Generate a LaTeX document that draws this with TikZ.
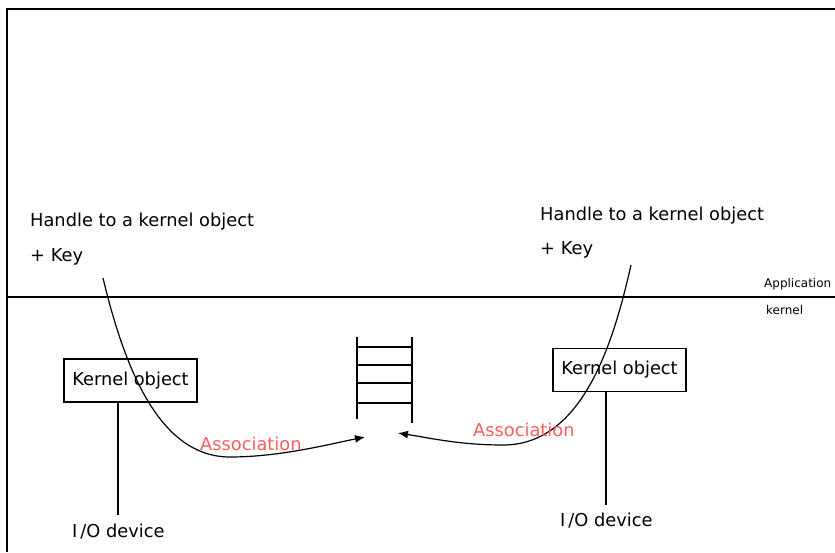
\documentclass[tikz,border=0pt]{standalone}
\usepackage{fontspec}
\setmainfont{DejaVu Sans}
\usetikzlibrary{arrows.meta}
\definecolor{assoc}{HTML}{FF5E5E}
\tikzset{
  line/.style={line width=1.1pt, black},
  frameline/.style={line width=1.3pt, black},
  label/.style={anchor=west, inner sep=0pt, font=\fontsize{17.8}{20}\selectfont},
  small/.style={anchor=west, inner sep=0pt, font=\fontsize{12}{14}\selectfont},
  objbox/.style={draw, line width=1.1pt, minimum width=133pt, minimum height=43pt,
                 inner sep=0pt, font=\fontsize{17.8}{20}\selectfont},
  assoclabel/.style={anchor=west, inner sep=0pt, text=assoc, font=\fontsize{17.8}{20}\selectfont},
  link/.style={line width=1.2pt, -{Latex[length=10pt,width=8pt]}}
}
\begin{document}
\begin{tikzpicture}[x=1pt, y=-1pt]
\useasboundingbox (0,0) rectangle (835,552);
\fill[white] (0,0) rectangle (835,552);

% outer frame and the application/kernel boundary
\draw[frameline] (7,552) -- (7,9) -- (835,9);
\draw[frameline] (7,297) -- (835,297);
\node[small] (app) at (764,284) {Application};
\node[small] (ker) at (766,310) {kernel};

% handles held by the application
\node[label] (h1) at (30,222) {Handle to a kernel object};
\node[label] (k1) at (30,257) {+ Key};
\node[label] (h2) at (540,216) {Handle to a kernel object};
\node[label] (k2) at (540,250) {+ Key};

% kernel objects and their devices
\node[objbox] (ko1) at (130.5,380.5) {Kernel object};
\node[objbox] (ko2) at (619.5,370) {Kernel object};
\node[label] (io1) at (72,532) {I\kern3pt/O device};
\node[label] (io2) at (560,521) {I\kern3pt/O device};
\coordinate (d1) at (118,515);
\coordinate (d2) at (606,505);
\draw[line] (ko1.south -| d1) -- (d1);
\draw[line] (ko2.south -| d2) -- (d2);

% completion queue
\draw[line] (357,337) -- (357,419);
\draw[line] (412,337) -- (412,423);
\foreach \y in {347,365,383,403} \draw[line] (357,\y) -- (412,\y);
\coordinate (q1) at (365,437);
\coordinate (q2) at (398,433);

% associations from handles to the queue
\coordinate (s1) at (103,278);
\coordinate (s2) at (631,265);
\draw[link] (s1) .. controls (125,370) and (160,457) .. (230,457)
               .. controls (280,457) and (330,444) .. (q1);
\draw[link] (s2) .. controls (612,350) and (580,445) .. (503,445)
               .. controls (460,445) and (430,438) .. (q2);
\node[assoclabel] (a1) at (200,444) {Association};
\node[assoclabel] (a2) at (473,430) {Association};
\end{tikzpicture}
\end{document}
